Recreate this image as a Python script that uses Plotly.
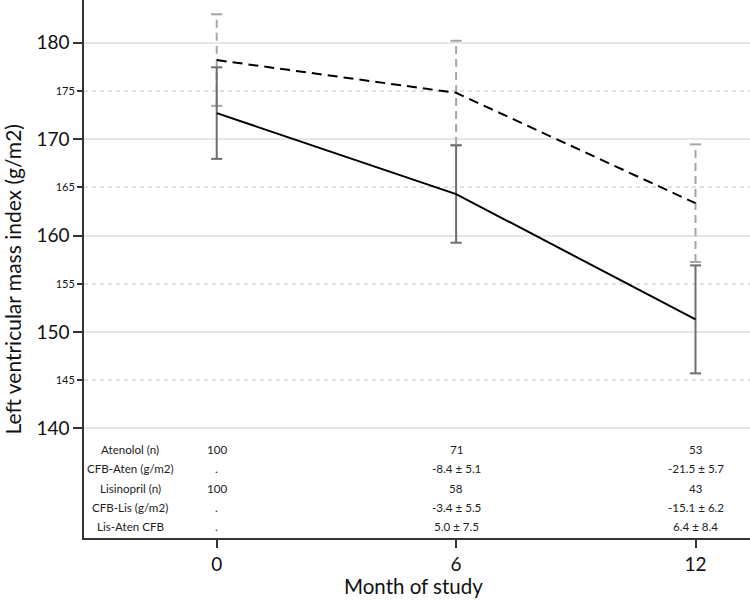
import plotly.graph_objects as go

months = [0, 6, 12]
aten_mean = [172.7, 164.3, 151.3]
aten_err = [4.75, 5.05, 5.6]
lis_mean = [178.2, 174.8, 163.35]
lis_err = [4.75, 5.4, 6.1]

major_ticks = [140, 150, 160, 170, 180]
minor_ticks = [145, 155, 165, 175]

row_labels = ["Atenolol (n)", "CFB-Aten (g/m2)", "Lisinopril (n)", "CFB-Lis (g/m2)", "Lis-Aten CFB"]
table_values = [
    ["100", "71", "53"],
    [".", "-8.4 ± 5.1", "-21.5 ± 5.7"],
    ["100", "58", "43"],
    [".", "-3.4 ± 5.5", "-15.1 ± 6.2"],
    [".", "5.0 ± 7.5", "6.4 ± 8.4"],
]

FONT = "Lato"
fig = go.Figure()


def add_errbars(means, errs, color, dash):
    xs, ys, cx, cy = [], [], [], []
    for m, v, e in zip(months, means, errs):
        xs += [m, m, None]
        ys += [v - e, v + e, None]
        cx += [m, m]
        cy += [v - e, v + e]
    fig.add_trace(go.Scatter(x=xs, y=ys, mode="lines",
                             line=dict(color=color, width=2, dash=dash),
                             hoverinfo="skip", showlegend=False))
    fig.add_trace(go.Scatter(x=cx, y=cy, mode="markers",
                             marker=dict(symbol="line-ew", size=8,
                                         line=dict(color=color, width=2)),
                             hoverinfo="skip", showlegend=False))


add_errbars(lis_mean, lis_err, "#a6a6a6", "8px,5px")
add_errbars(aten_mean, aten_err, "#6e6e6e", "solid")

fig.add_trace(go.Scatter(x=months, y=lis_mean, mode="lines", name="Lisinopril",
                         line=dict(color="black", width=2, dash="10px,6px"),
                         showlegend=False))
fig.add_trace(go.Scatter(x=months, y=aten_mean, mode="lines", name="Atenolol",
                         line=dict(color="black", width=2), showlegend=False))

# dummy trace to activate minor-tick axis
fig.add_trace(go.Scatter(x=[None], y=[None], yaxis="y2", showlegend=False,
                         hoverinfo="skip"))

# table under the curves
row_y0 = 137.8
row_step = 2.0
label_x = -2.17
for i, (lab, vals) in enumerate(zip(row_labels, table_values)):
    y = row_y0 - i * row_step
    fig.add_annotation(x=label_x, y=y, text=lab, showarrow=False,
                       xanchor="center", yanchor="middle",
                       font=dict(family=FONT, size=11.6, color="#222"))
    for m, v in zip(months, vals):
        fig.add_annotation(x=m, y=y, text=v, showarrow=False,
                           xanchor="center", yanchor="middle",
                           font=dict(family=FONT, size=11.6, color="#222"))

# axis titles
fig.add_annotation(xref="paper", yref="paper", x=0.494, y=-0.089,
                   text="Month of study", showarrow=False,
                   xanchor="center", yanchor="middle",
                   font=dict(family=FONT, size=20.5, color="#111"))
fig.add_annotation(xref="paper", yref="paper", x=-0.107, y=0.48,
                   text="Left ventricular mass index (g/m2)", showarrow=False,
                   textangle=-90, xanchor="center", yanchor="middle",
                   font=dict(family=FONT, size=21, color="#111"))

yrange = [128.62, 184.43]
fig.update_layout(
    width=750, height=600,
    margin=dict(l=84, r=0, t=0, b=62, autoexpand=False),
    plot_bgcolor="white", paper_bgcolor="white",
    font=dict(family=FONT, color="#111"),
    xaxis=dict(range=[-3.326, 13.366], tickvals=months, ticktext=[str(m) for m in months],
               ticks="outside", ticklen=8, tickwidth=1.5, tickcolor="#333",
               tickfont=dict(size=19, family=FONT),
               showline=True, linecolor="#333", linewidth=1.5,
               showgrid=False, zeroline=False, automargin=False),
    yaxis=dict(range=yrange, tickvals=major_ticks,
               ticks="outside", ticklen=9, tickwidth=1.5, tickcolor="#333",
               tickfont=dict(size=19, family=FONT),
               showline=True, linecolor="#333", linewidth=1.5,
               showgrid=True, gridcolor="#e6e6e6", gridwidth=2, zeroline=False,
               automargin=False),
    yaxis2=dict(range=yrange, overlaying="y", side="left", anchor="x",
                tickvals=minor_ticks,
                ticks="outside", ticklen=6, tickwidth=1.5, tickcolor="#333",
                tickfont=dict(size=11, family=FONT),
                showline=False, showgrid=True, gridcolor="#dedede", gridwidth=1.5,
                griddash="4px,4px", zeroline=False, automargin=False),
)

html = fig.to_html(full_html=True, include_plotlyjs=True,
                   config={"displayModeBar": False})
html = html.replace("<body>", '<body style="margin:0;padding:0;overflow:hidden">', 1)
with open("out.html", "w", encoding="utf-8") as f:
    f.write(html)
